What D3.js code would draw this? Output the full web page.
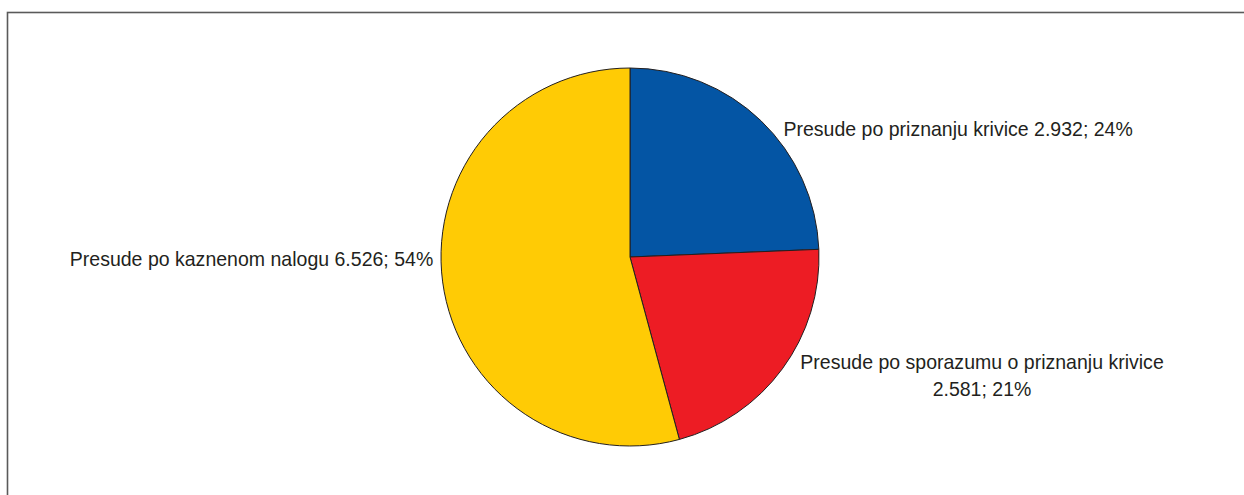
<!DOCTYPE html>
<html><head><meta charset="utf-8">
<script src="https://cdn.jsdelivr.net/npm/d3@7"></script>
<style>html,body{margin:0;padding:0;background:#fff;}svg{display:block;}</style>
</head><body>
<script>
const categories = ["Presude po priznanju krivice", "Presude po sporazumu o priznanju krivice", "Presude po kaznenom nalogu"];
const values = [2932, 2581, 6526];
const valueLabels = ["2.932", "2.581", "6.526"];
const percentLabels = ["24%", "21%", "54%"];
const colors = ["#0455A4", "#ED1C24", "#FFCB05"];

const W = 1244, H = 495;
const cx = 630, cy = 257, R = 189;
const svg = d3.select("body").append("svg").attr("width", W).attr("height", H);

svg.append("rect").attr("x", 7.5).attr("y", 12.5).attr("width", 1400).attr("height", 700)
  .attr("fill", "none").attr("stroke", "#5a5a5a").attr("stroke-width", 1.6);

const pie = d3.pie().sort(null).value(d => d)(values);
const arc = d3.arc().innerRadius(0).outerRadius(R);
const g = svg.append("g").attr("transform", `translate(${cx},${cy})`);
g.selectAll("path").data(pie).join("path")
  .attr("d", arc).attr("fill", (d, i) => colors[i])
  .attr("stroke", "#231F20").attr("stroke-width", 1);

const labelArc = d3.arc().innerRadius(R * 1.05).outerRadius(R * 1.05);
const font = "'Liberation Sans', Arial, sans-serif";
const FS = 21, SX = 0.93;
// per-label layout offsets (relative to outer centroid)
const layout = [
  {anchor: "start", dx: 16, dy: 22, lines: [{s: `${categories[0]} ${valueLabels[0]}; ${percentLabels[0]}`, dx: 0, dy: 0}]},
  {anchor: "middle", dx: 192, dy: -5, lines: [{s: categories[1], dx: 0, dy: 0}, {s: `${valueLabels[1]}; ${percentLabels[1]}`, dx: 0, dy: 27}]},
  {anchor: "end", dx: 0, dy: -17, lines: [{s: `${categories[2]} ${valueLabels[2]}; ${percentLabels[2]}`, dx: 0, dy: 0}]}
];
pie.forEach((d, i) => {
  const [x, y] = labelArc.centroid(d);
  const L = layout[i];
  const t = g.append("g").attr("transform", `translate(${x + L.dx},${y + L.dy}) scale(${SX},1)`);
  L.lines.forEach(l => t.append("text").attr("text-anchor", L.anchor)
    .attr("font-family", font).attr("font-size", FS).attr("fill", "#231F20")
    .attr("x", l.dx / SX).attr("y", l.dy).text(l.s));
});
</script>
</body></html>
